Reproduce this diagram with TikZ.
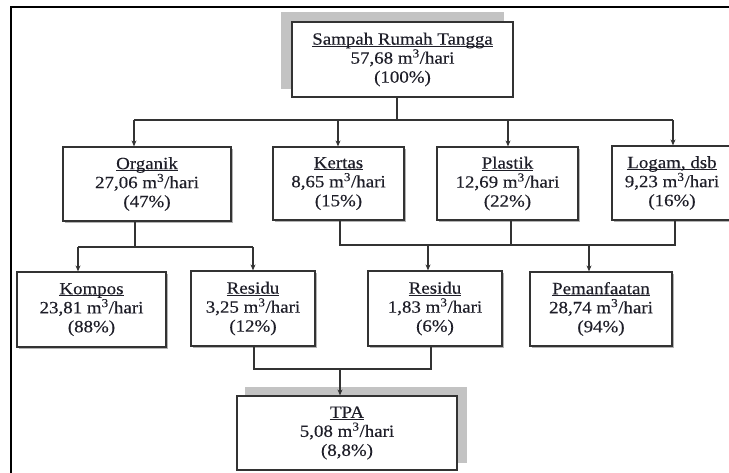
\documentclass[tikz,border=0pt]{standalone}
\usepackage{fontspec}
\setmainfont{Liberation Serif}[FakeStretch=1.1,FakeBold=0.25]
\usetikzlibrary{arrows.meta,shadows,backgrounds}
\definecolor{boxc}{HTML}{333333}
\definecolor{shc}{HTML}{C3C3C3}
\definecolor{txtc}{HTML}{1E1E28}
\newcommand\ulx[1]{\setbox0\hbox{#1}\rlap{\rule[-2pt]{\wd0}{0.9pt}}\box0}
\tikzset{
  bx/.style={draw=boxc, line width=1.2pt, fill=white, align=center, inner sep=0pt,
    text=txtc, font=\fontsize{17.2}{19}\selectfont},
  smsh/.style={drop shadow={shadow xshift=1.8pt, shadow yshift=-1.8pt, opacity=0.6, fill=gray}},
  ln/.style={draw=boxc, line width=1.1pt},
  arr/.style={ln, -{Stealth[length=6pt,width=5pt]}},
  frame/.style={line width=2.4pt, black}
}
\begin{document}
\begin{tikzpicture}[x=1pt,y=-1pt]
\useasboundingbox (0,0) rectangle (729,472);
\draw[frame] (11,473) -- (11,7) -- (730,7);

% nodes
\node[bx, minimum width=221pt, minimum height=75pt] (top) at (402.5,59.5)
  {\ulx{Sampah Rumah Tangga}\\57,68 m\textsuperscript{3}/hari\\(100\%)};
\node[bx, smsh, minimum width=168pt, minimum height=74pt] (org) at (147,184)
  {\ulx{Organik}\\27,06 m\textsuperscript{3}/hari\\(47\%)};
\node[bx, smsh, minimum width=131pt, minimum height=73pt] (ker) at (338.5,183.5)
  {\ulx{Kertas}\\8,65 m\textsuperscript{3}/hari\\(15\%)};
\node[bx, smsh, minimum width=141pt, minimum height=73pt] (pla) at (507.5,183.5)
  {\ulx{Plastik}\\12,69 m\textsuperscript{3}/hari\\(22\%)};
\node[bx, smsh, minimum width=120pt, minimum height=74pt] (log) at (672,183)
  {\ulx{Logam, dsb}\\9,23 m\textsuperscript{3}/hari\\(16\%)};
\node[bx, smsh, minimum width=149pt, minimum height=75pt] (kom) at (91.5,309.5)
  {\ulx{Kompos}\\23,81 m\textsuperscript{3}/hari\\(88\%)};
\node[bx, smsh, minimum width=124pt, minimum height=75pt] (resa) at (253,308.5)
  {\ulx{Residu}\\3,25 m\textsuperscript{3}/hari\\(12\%)};
\node[bx, smsh, minimum width=134pt, minimum height=75pt] (resb) at (435,308.5)
  {\ulx{Residu}\\1,83 m\textsuperscript{3}/hari\\(6\%)};
\node[bx, smsh, minimum width=142pt, minimum height=74pt] (pem) at (601,309)
  {\ulx{Pemanfaatan}\\28,74 m\textsuperscript{3}/hari\\(94\%)};
\node[bx, minimum width=220pt, minimum height=74pt] (tpa) at (347,433)
  {\ulx{TPA}\\5,08 m\textsuperscript{3}/hari\\(8,8\%)};

\begin{scope}[on background layer]
  \fill[shc] ([xshift=-10pt,yshift=9pt]top.south west) rectangle ([xshift=-10pt,yshift=9pt]top.north east);
  \fill[shc] ([xshift=9pt,yshift=8pt]tpa.south west) rectangle ([xshift=9pt,yshift=8pt]tpa.north east);
\end{scope}

% level 1
\coordinate (t0) at (397,120);
\coordinate (a1) at (134,120);
\coordinate (a2) at (338,120);
\coordinate (a3) at (508,120);
\coordinate (a4) at (673,120);
\draw[ln] (top.south -| t0) -- (t0);
\draw[ln] (a1) -- (a4);
\draw[arr] (a1) -- (a1 |- org.north);
\draw[arr] (a2) -- (a2 |- ker.north);
\draw[arr] (a3) -- (a3 |- pla.north);
\draw[arr] (a4) -- (a4 |- log.north);

% organik split
\coordinate (o0) at (135,247);
\coordinate (b1) at (78,247);
\coordinate (b2) at (253,247);
\draw[ln] (org.south -| o0) -- (o0);
\draw[ln] (b1) -- (b2);
\draw[arr] (b1) -- (b1 |- kom.north);
\draw[arr] (b2) -- (b2 |- resa.north);

% anorganik merge
\coordinate (k0) at (340,245);
\coordinate (p0) at (511,245);
\coordinate (l0) at (675,245);
\coordinate (c1) at (428,245);
\coordinate (c2) at (589,245);
\draw[ln] (ker.south -| k0) -- (k0) -- (l0) -- (log.south -| l0);
\draw[ln] (pla.south -| p0) -- (p0);
\draw[arr] (c1) -- (c1 |- resb.north);
\draw[arr] (c2) -- (c2 |- pem.north);

% to TPA
\coordinate (r1) at (254,369);
\coordinate (r2) at (431,369);
\coordinate (d0) at (340,369);
\draw[ln] (resa.south -| r1) -- (r1) -- (r2) -- (resb.south -| r2);
\draw[arr] (d0) -- (d0 |- tpa.north);
\end{tikzpicture}
\end{document}
